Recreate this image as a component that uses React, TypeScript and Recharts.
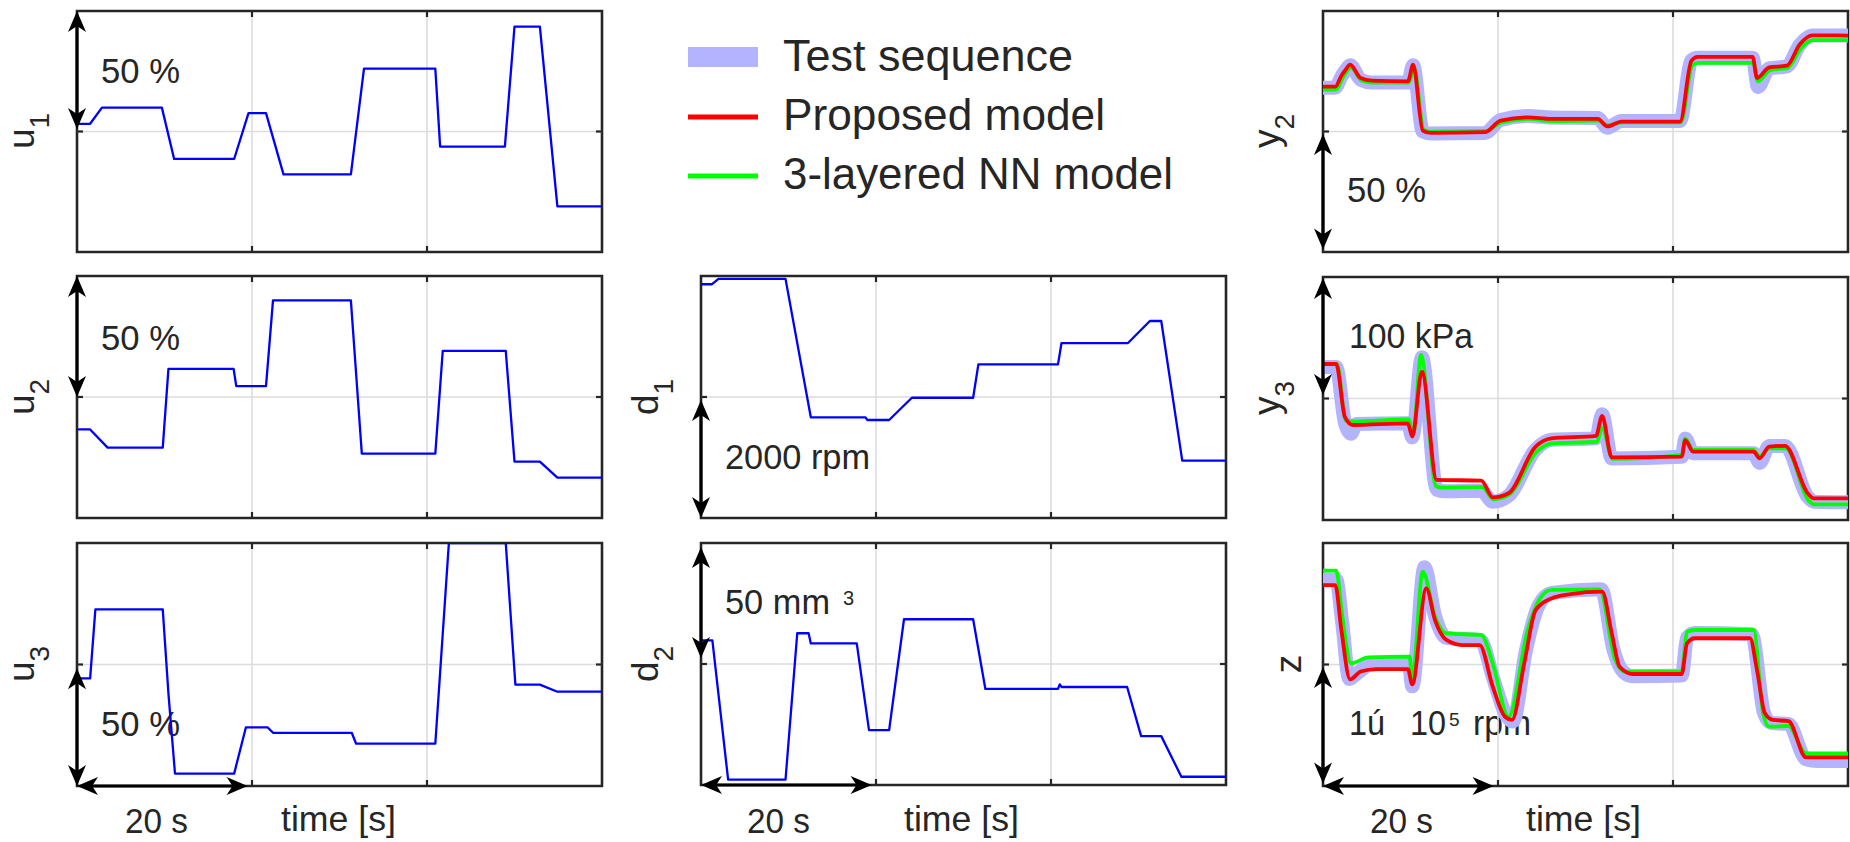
import React from 'react';
import { LineChart, Line, XAxis, YAxis, ReferenceLine, ReferenceArea } from 'recharts';

type Pt = [number, number];

// ---------- data (time in s, level in % of panel range) ----------
const timeDomain = [0, 60];
const timeGrid = [20, 40];
const levelDomain = [0, 100];
const levelGrid = [50];

const u1: Pt[] = [[0,53.2],[1.5,53.2],[2.85,59.9],[9.7,59.9],[11.1,38.6],[17.96,38.6],[19.6,57.6],[21.6,57.6],[23.6,32.2],[31.3,32.2],[32.8,76.1],[40.95,76.1],[41.5,43.75],[48.9,43.75],[50.0,93.5],[52.9,93.5],[54.9,18.9],[60,18.9]];
const u2: Pt[] = [[0,36.6],[1.5,36.6],[3.5,29.1],[9.8,29.1],[10.45,61.6],[17.9,61.6],[18.2,54.5],[21.6,54.5],[22.4,89.9],[31.3,89.9],[32.55,26.6],[40.95,26.6],[41.8,69.1],[49.0,69.1],[50.0,23.3],[52.9,23.3],[54.9,16.7],[60,16.7]];
const u3: Pt[] = [[0,44.3],[1.5,44.3],[2.1,72.7],[9.8,72.7],[10.45,38],[11.2,5.1],[17.96,5.1],[19.3,24.1],[21.8,24.1],[22.4,21.9],[31.4,21.9],[31.9,17.4],[40.95,17.4],[42.5,100],[49.0,100],[50.1,41.7],[52.9,41.7],[54.9,38.8],[60,38.8]];
const d1: Pt[] = [[0,96.6],[1.26,96.6],[2.0,98.8],[9.66,98.8],[12.55,41.6],[18.8,41.6],[19.0,40.5],[21.5,40.5],[24.1,49.7],[31.1,49.7],[31.7,63.5],[40.8,63.5],[41.2,72.3],[48.8,72.3],[51.3,81.4],[52.6,81.4],[55.0,23.7],[60,23.7]];
const d2: Pt[] = [[0,59.8],[1.3,59.8],[3.1,2.2],[9.66,2.2],[11.0,62.7],[12.3,62.7],[12.55,58.5],[17.8,58.5],[19.2,22.7],[21.5,22.7],[23.2,68.5],[31.1,68.5],[32.5,39.7],[40.8,39.7],[41.0,41.6],[41.2,40.5],[48.7,40.5],[50.3,20.2],[52.6,20.2],[54.9,3.4],[60,3.4]];

const y2Test: Pt[] = [[0,68.2],[1.4,68.2],[2.1,72.8],[2.5,75],[3.1,77.5],[4.3,71.5],[5.6,70.3],[9.7,70.3],[10.3,77.5],[11.4,50],[12.3,49.2],[18.5,49.4],[20.3,54.8],[23.4,56.4],[26.1,55.8],[31.4,55.6],[32.5,51.6],[34.1,54.4],[40.8,54.4],[42.1,79.5],[42.8,80.6],[49.1,80.6],[49.7,68.5],[51.0,76.2],[53.0,77],[54.5,86],[55.9,89.8],[60,89.8]];
const y2Proposed: Pt[] = [[0,68.6],[1.4,68.6],[2.1,73.1],[2.5,75.2],[3.1,77.7],[4.3,72.2],[5.6,71.1],[9.7,70.8],[10.3,77.7],[11.4,50.4],[12.3,49.4],[18.5,49.7],[20.3,54.5],[23.4,55.9],[26.1,55.2],[31.4,55.2],[32.5,52.1],[34.1,54.1],[40.8,54.1],[42.1,79.3],[42.8,81.0],[49.1,81.0],[49.6,72.2],[51.0,76.6],[53.0,77.3],[54.5,86.2],[55.9,89.9],[60,89.8]];
const y2Nn: Pt[] = [[0,67.4],[1.5,67.4],[2.2,72],[2.6,74.3],[3.2,76.5],[4.4,71.2],[5.7,70.3],[9.8,70.3],[10.4,76.8],[11.5,50.8],[12.4,49.9],[18.6,50.2],[20.4,53.8],[23.5,55.2],[26.2,54.3],[31.5,54.5],[32.6,52.6],[34.2,53.8],[40.9,53.8],[42.2,77.5],[42.9,78.5],[49.2,78.5],[49.7,70.8],[51.1,75.5],[53.1,76.4],[54.6,84.5],[56,87.9],[60,87.9]];

const y3Test: Pt[] = [[0,63],[1.5,63],[2.5,40],[3.2,35.5],[3.8,39.5],[9.7,39.8],[10.2,34],[11.3,67],[13.0,12.5],[14,11.8],[18.1,12],[19.4,7.5],[21.2,10],[24.3,29],[26.1,33],[31.2,33.6],[31.9,43.5],[33.0,25.3],[41.0,26],[41.4,33.5],[42.3,27.5],[49.2,27.5],[49.9,23.5],[51.0,30.5],[52.8,30.5],[55.4,9.5],[56.1,7.5],[60,7.3]];
const y3Proposed: Pt[] = [[0,64.2],[1.5,64.2],[2.5,42.5],[3.4,39.1],[9.7,39.8],[10.2,34.3],[11.3,61.0],[13.0,16.5],[18.1,16.2],[19.4,9.3],[21.2,11.0],[24.3,30.2],[26.1,33.6],[31.2,34.6],[31.9,42.8],[33.0,25.8],[41.0,26.1],[41.4,32.9],[42.3,28.1],[49.2,28.1],[49.9,25.4],[51.0,30.2],[52.8,30.5],[55.4,11.0],[56.1,8.9],[60,8.9]];
const y3Nn: Pt[] = [[0,64.2],[1.6,64.2],[2.6,41],[3.5,40.5],[9.8,41.4],[10.3,35],[11.2,67.9],[12.9,14],[13.6,13.3],[18.2,13.5],[19.5,8.5],[21.3,10.5],[24.4,28],[26.2,31.5],[31.3,32.2],[31.9,38],[33.1,25.2],[41.0,26.8],[41.4,33.5],[42.3,28.8],[49.2,28.8],[49.9,26.2],[51.0,29.5],[52.9,29.5],[55.5,8],[56.2,6.4],[60,6.4]];

const zTest: Pt[] = [[0,85],[1.5,85],[2.2,67],[3.0,44],[3.6,45.5],[5.5,50],[9.8,50.5],[10.2,41],[11.6,90],[12.8,70],[14.1,61],[18,60],[19.4,45],[20.8,30],[21.7,26.5],[23.2,56],[24.6,74],[26.1,79.5],[31.8,81],[33.2,56],[34.3,47],[35.4,45.2],[41,45.5],[41.6,61],[42.5,63],[49,62.5],[50.4,30],[51.2,26],[53.2,25.5],[55.2,11],[56.5,10.3],[60,10.3]];
const zProposed: Pt[] = [[0,82.7],[1.4,82.7],[2.1,64.2],[3.1,43.9],[4.3,47.1],[6.1,48.1],[9.7,48.1],[10.2,41.8],[11.8,81.3],[12.8,68.3],[14.1,60.1],[15.9,58.0],[17.9,58.0],[19.4,40.9],[20.8,28.5],[21.6,27.2],[23.0,50.5],[24.3,72.4],[26.1,77.2],[28.3,79.0],[31.9,80.0],[33.0,62.8],[33.9,49.1],[35.4,46.1],[41.0,46.1],[41.6,58.7],[42.5,60.8],[48.8,60.8],[49.6,47.7],[50.5,29.9],[51.4,27.2],[53.2,26.7],[55.2,11.8],[60,11.8]];
const zNn: Pt[] = [[0,88.6],[1.5,88.6],[2.2,70],[3.2,50.5],[5.2,52.9],[9.9,53.2],[10.2,43.6],[11.4,88.2],[12.8,69.7],[14.1,62.8],[18.1,62.1],[19.4,50.5],[21.2,28.5],[23.4,64.2],[24.8,77.2],[26.1,80.7],[31.6,80.9],[33.4,51.9],[34.5,47.1],[41.0,47.1],[41.6,63.5],[42.5,64.2],[49.2,64.2],[50.3,29.9],[51.0,24.4],[53.2,24.7],[55.2,13.4],[60,13.4]];

const legendLabels = ['Test sequence', 'Proposed model', '3-layered NN model'];

// ---------- styles ----------
const FONT = '"Liberation Sans", Arial, Helvetica, sans-serif';
const INK = '#262626';
const GRID = '#dcdcdc';
const BLUE = '#0000ff';
const BAND = '#b3b3ff';
const RED = '#ff0000';
const GREEN = '#00ff00';
const PAD = 14;

const toRows = (pts: Pt[]) => pts.map(([t, v]) => ({ t, v }));

type Series = { name: string; data: Pt[]; color: string; width: number; curve: 'linear' | 'monotone' };
type Seg = { x1: number; y1: number; x2: number; y2: number };
type Box = { left: number; top: number; width: number; height: number };

function arrowHead(tx: number, ty: number, ux: number, uy: number) {
  const L = 21, H = 9;
  const bx = tx - ux * L, by = ty - uy * L;
  const nx = tx - ux * L * 0.72, ny = ty - uy * L * 0.72;
  const px = -uy, py = ux;
  return `${tx},${ty} ${bx + px * H},${by + py * H} ${nx},${ny} ${bx - px * H},${by - py * H}`;
}

const ArrowShape = (props: any) => {
  const { x1, y1, x2, y2 } = props;
  const dx = x2 - x1, dy = y2 - y1;
  const len = Math.sqrt(dx * dx + dy * dy) || 1;
  const ux = dx / len, uy = dy / len;
  const inset = 21 * 0.72;
  return (
    <g>
      <line x1={x1 + ux * inset} y1={y1 + uy * inset} x2={x2 - ux * inset} y2={y2 - uy * inset} stroke="#000" strokeWidth={3.2} />
      <polygon points={arrowHead(x2, y2, ux, uy)} fill="#000" />
      <polygon points={arrowHead(x1, y1, -ux, -uy)} fill="#000" />
    </g>
  );
};

// grid line with short inward ticks at both borders (MATLAB style)
const GridShape = (props: any) => {
  const { x1, y1, x2, y2 } = props;
  const dx = x2 - x1, dy = y2 - y1;
  const len = Math.sqrt(dx * dx + dy * dy) || 1;
  const ux = dx / len, uy = dy / len;
  const T = 6;
  return (
    <g>
      <line x1={x1} y1={y1} x2={x2} y2={y2} stroke={GRID} strokeWidth={1.6} />
      <line x1={x1} y1={y1} x2={x1 + ux * T} y2={y1 + uy * T} stroke={INK} strokeWidth={2.2} />
      <line x1={x2} y1={y2} x2={x2 - ux * T} y2={y2 - uy * T} stroke={INK} strokeWidth={2.2} />
    </g>
  );
};

function Panel({ box, series, arrows }: { box: Box; series: Series[]; arrows: Seg[] }) {
  const { left, top, width, height } = box;
  return (
    <div style={{ position: 'absolute', left: left - PAD, top: top - PAD }}>
      <LineChart width={width + 2 * PAD} height={height + 2 * PAD} margin={{ top: PAD, right: PAD, bottom: PAD, left: PAD }}>
        <XAxis dataKey="t" type="number" domain={timeDomain} hide allowDataOverflow />
        <YAxis type="number" domain={levelDomain} hide allowDataOverflow />
        {timeGrid.map((t) => (
          <ReferenceLine key={`gx${t}`} x={t} ifOverflow="visible" shape={GridShape} />
        ))}
        {levelGrid.map((v) => (
          <ReferenceLine key={`gy${v}`} y={v} ifOverflow="visible" shape={GridShape} />
        ))}
        {series.map((s) => (
          <Line key={s.name} name={s.name} data={toRows(s.data)} dataKey="v" type={s.curve} stroke={s.color} strokeWidth={s.width}
            strokeLinejoin="round" strokeLinecap="round" dot={false} activeDot={false} isAnimationActive={false} />
        ))}
        <ReferenceArea x1={timeDomain[0]} x2={timeDomain[1]} y1={levelDomain[0]} y2={levelDomain[1]} ifOverflow="visible"
          fill="none" fillOpacity={0} stroke={INK} strokeWidth={2.6} />
        {arrows.map((a, i) => (
          <ReferenceLine key={`a${i}`} segment={[{ x: a.x1, y: a.y1 }, { x: a.x2, y: a.y2 }]} ifOverflow="visible" shape={ArrowShape} />
        ))}
      </LineChart>
    </div>
  );
}

const single = (name: string, data: Pt[]): Series[] => [{ name, data, color: BLUE, width: 2.3, curve: 'linear' }];
const triple = (test: Pt[], prop: Pt[], nn: Pt[]): Series[] => [
  { name: legendLabels[0], data: test, color: BAND, width: 14, curve: 'monotone' },
  { name: legendLabels[2], data: nn, color: GREEN, width: 3.8, curve: 'monotone' },
  { name: legendLabels[1], data: prop, color: RED, width: 3.8, curve: 'monotone' },
];

const Txt = ({ x, y, w, size = 35, children }: any) => (
  <text x={x} y={y} fontSize={size} textLength={w} lengthAdjust="spacingAndGlyphs" fill={INK} fontFamily={FONT}>{children}</text>
);

const YLabel = ({ x, cy, main, sub }: { x: number; cy: number; main: string; sub?: string }) => (
  <text transform={`translate(${x},${cy}) rotate(-90)`} textAnchor="middle" fontSize={37} fill={INK} fontFamily={FONT}>
    {main}
    {sub ? <tspan fontSize={28} dy={15}>{sub}</tspan> : null}
  </text>
);

export default function App() {
  const L = 77, M = 701, R = 1323, W = 525;
  const vUp = (a: number, b: number): Seg => ({ x1: 0, y1: a, x2: 0, y2: b });
  const hTime: Seg = { x1: 0, y1: 0, x2: 19.5, y2: 0 };
  return (
    <div style={{ position: 'fixed', left: 0, top: 0, width: 1850, height: 842, background: '#fff', overflow: 'hidden' }}>
      <svg width={1850} height={842} style={{ position: 'absolute', left: 0, top: 0 }}>
        {/* axis labels */}
        <YLabel x={34} cy={131} main="u" sub="1" />
        <YLabel x={34} cy={397} main="u" sub="2" />
        <YLabel x={34} cy={664} main="u" sub="3" />
        <YLabel x={658} cy={397} main="d" sub="1" />
        <YLabel x={658} cy={664} main="d" sub="2" />
        <YLabel x={1279} cy={131} main="y" sub="2" />
        <YLabel x={1279} cy={398} main="y" sub="3" />
        <YLabel x={1301} cy={664} main="z" />

        {/* scale annotations */}
        <Txt x={101} y={83} w={79}>50 %</Txt>
        <Txt x={101} y={350} w={79}>50 %</Txt>
        <Txt x={101} y={736} w={79}>50 %</Txt>
        <Txt x={725} y={469} w={145}>2000 rpm</Txt>
        <text y={614} fill={INK} fontFamily={FONT} fontSize={35}>
          <tspan x={725} textLength={105} lengthAdjust="spacingAndGlyphs">50 mm</tspan>
          <tspan x={843} y={605} fontSize={20}>3</tspan>
        </text>
        <Txt x={1347} y={202} w={79}>50 %</Txt>
        <Txt x={1349} y={348} w={124}>100 kPa</Txt>
        <text y={735} fill={INK} fontFamily={FONT} fontSize={35}>
          <tspan x={1349} textLength={36} lengthAdjust="spacingAndGlyphs">1ú</tspan>
          <tspan x={1410} textLength={36} lengthAdjust="spacingAndGlyphs">10</tspan>
          <tspan x={1449} y={726} fontSize={19}>5</tspan>
          <tspan x={1473} y={735} textLength={58} lengthAdjust="spacingAndGlyphs">rpm</tspan>
        </text>

        {/* time annotations */}
        <Txt x={125} y={833} w={63}>20 s</Txt>
        <Txt x={281} y={831} w={115}>time [s]</Txt>
        <Txt x={747} y={833} w={63}>20 s</Txt>
        <Txt x={904} y={831} w={115}>time [s]</Txt>
        <Txt x={1370} y={833} w={63}>20 s</Txt>
        <Txt x={1526} y={831} w={115}>time [s]</Txt>

        {/* legend */}
        <line x1={688} y1={57} x2={758} y2={57} stroke={BAND} strokeWidth={20} />
        <line x1={688} y1={117} x2={758} y2={117} stroke={RED} strokeWidth={5} />
        <line x1={688} y1={176} x2={758} y2={176} stroke={GREEN} strokeWidth={5} />
        <Txt x={783} y={71} w={290} size={44}>{legendLabels[0]}</Txt>
        <Txt x={783} y={130} w={322} size={44}>{legendLabels[1]}</Txt>
        <Txt x={783} y={189} w={390} size={44}>{legendLabels[2]}</Txt>
      </svg>

      <Panel box={{ left: L, top: 11, width: W, height: 241 }} series={single('u1', u1)} arrows={[vUp(51, 100)]} />
      <Panel box={{ left: L, top: 276, width: W, height: 242 }} series={single('u2', u2)} arrows={[vUp(50, 100)]} />
      <Panel box={{ left: L, top: 543, width: W, height: 243 }} series={single('u3', u3)} arrows={[vUp(0, 48.5), hTime]} />
      <Panel box={{ left: M, top: 276, width: W, height: 242 }} series={single('d1', d1)} arrows={[vUp(0, 48.8)]} />
      <Panel box={{ left: M, top: 543, width: W, height: 242 }} series={single('d2', d2)} arrows={[vUp(52.5, 98.3), hTime]} />
      <Panel box={{ left: R, top: 11, width: W, height: 241 }} series={triple(y2Test, y2Proposed, y2Nn)} arrows={[vUp(1, 49)]} />
      <Panel box={{ left: R, top: 277, width: W, height: 243 }} series={triple(y3Test, y3Proposed, y3Nn)} arrows={[vUp(51.4, 99.6)]} />
      <Panel box={{ left: R, top: 543, width: W, height: 243 }} series={triple(zTest, zProposed, zNn)} arrows={[vUp(1, 49), hTime]} />
    </div>
  );
}
